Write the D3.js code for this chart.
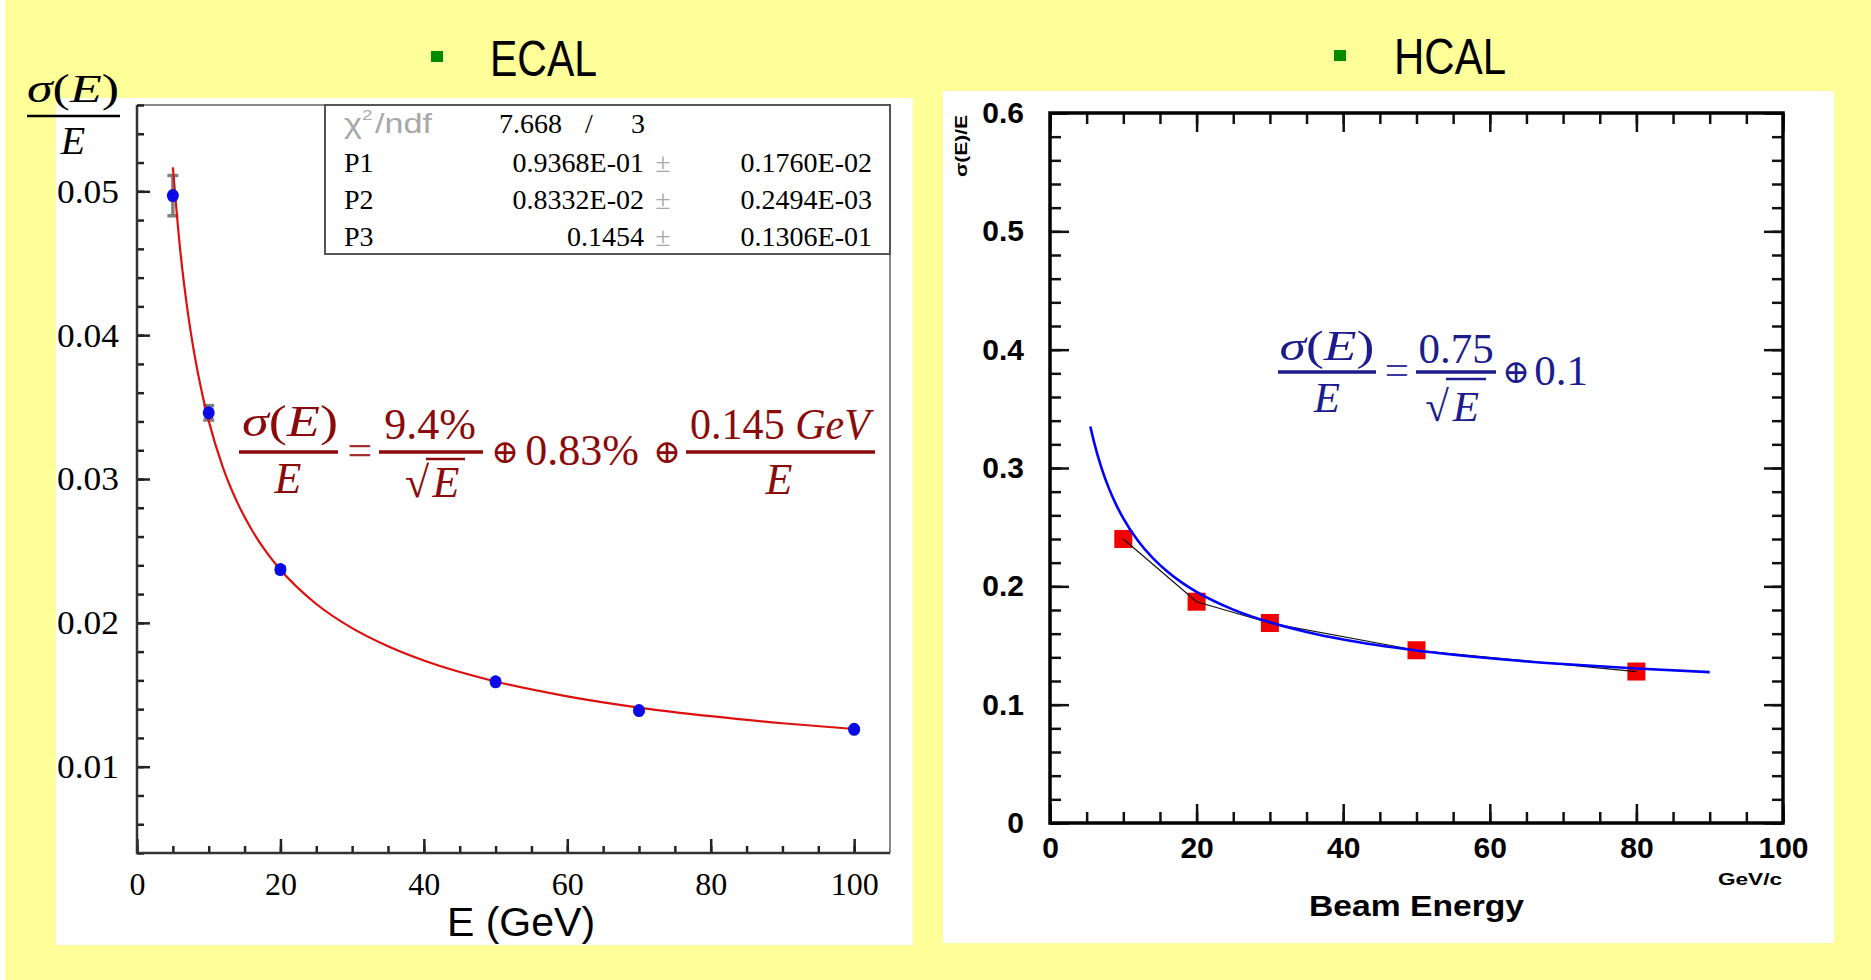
<!DOCTYPE html>
<html>
<head>
<meta charset="utf-8">
<script src="https://cdn.jsdelivr.net/npm/d3@7"></script>
<style>
  html, body { margin: 0; padding: 0; background: #ffff99; overflow: hidden; }
  svg { display: block; }
</style>
</head>
<body>
<svg id="chart" width="1871" height="980"></svg>
<script>
// ---------------- ECAL data ----------------
const ecalEnergy = [5, 10, 20, 50, 70, 100];                       // GeV
const ecalRes    = [0.0497, 0.0346, 0.0237, 0.0159, 0.0139, 0.0126]; // sigma(E)/E
const ecalErr    = [0.0014, 0.0005, 0.0002, 0.0001, 0.0001, 0.0001];
// fitted resolution curve, sampled along the energy range
const ecalFitEnergy = [5, 6, 7, 8, 9, 10, 12, 14, 16, 18, 20, 25, 30, 35, 40, 50, 60, 70, 80, 90, 100];
const ecalFitRes    = [0.05167, 0.04604, 0.04189, 0.03869, 0.03613, 0.03404, 0.03078, 0.02836, 0.02647,
                       0.02495, 0.02369, 0.02131, 0.01963, 0.01837, 0.01738, 0.01592, 0.01489, 0.01411,
                       0.01351, 0.01302, 0.01262];
const ecalXTicks = [0, 20, 40, 60, 80, 100];
const ecalYTicks = [0.01, 0.02, 0.03, 0.04, 0.05];
// fit statistics box rows
const fitNames  = ["P1", "P2", "P3"];
const fitValues = ["0.9368E-01", "0.8332E-02", "0.1454"];
const fitErrors = ["0.1760E-02", "0.2494E-03", "0.1306E-01"];
const chi2 = "7.668", ndf = "3";

// ---------------- HCAL data ----------------
const hcalEnergy = [10, 20, 30, 50, 80];                 // GeV/c
const hcalRes    = [0.240, 0.187, 0.169, 0.146, 0.128];  // sigma(E)/E
const hcalCurveEnergy = [5.5, 6, 7, 8, 9, 10, 12, 14, 16, 18, 20, 25, 30, 35, 40, 50, 60, 70, 80, 90];
const hcalCurveRes    = [0.3351, 0.3221, 0.3006, 0.2834, 0.2693, 0.2574, 0.2385, 0.2240, 0.2125, 0.2031,
                         0.1953, 0.1803, 0.1696, 0.1615, 0.1551, 0.1458, 0.1392, 0.1343, 0.1305, 0.1275];
const hcalXTicks = [0, 20, 40, 60, 80, 100];
const hcalYTicks = [0, 0.1, 0.2, 0.3, 0.4, 0.5, 0.6];

// ---------------- helpers ----------------
const SERIF = "'Liberation Serif','Times New Roman',serif";
const SANS  = "'Liberation Sans',Arial,Helvetica,sans-serif";
const MATH  = "'DejaVu Serif','DejaVu Sans',serif";

const svg = d3.select("#chart");

// text made of [string, italic] runs
function put(g, x, y, parts, o = {}) {
  const t = g.append("text")
    .attr("x", x).attr("y", y)
    .attr("font-family", o.family || SERIF)
    .attr("font-size", o.size || 32)
    .attr("font-weight", o.weight || "normal")
    .attr("fill", o.fill || "#000")
    .attr("text-anchor", o.anchor || "middle");
  if (o.len) t.attr("textLength", o.len).attr("lengthAdjust", "spacingAndGlyphs");
  if (o.rotate) t.attr("transform", `rotate(${o.rotate},${x},${y})`);
  const runs = typeof parts === "string" ? [[parts, false]] : parts;
  runs.forEach(([s, it]) => {
    const ts = t.append("tspan").text(s);
    if (it) ts.attr("font-style", "italic");
  });
  return t;
}
function bar(g, x1, x2, y, color, w) {
  g.append("line").attr("x1", x1).attr("x2", x2).attr("y1", y).attr("y2", y)
    .attr("stroke", color).attr("stroke-width", w || 3);
}
function styleAxis(sel, color, width) {
  sel.select(".domain").remove();
  sel.selectAll(".tick line").attr("stroke", color).attr("stroke-width", width);
}

// ---------------- page background ----------------
svg.append("rect").attr("width", 1871).attr("height", 980).attr("fill", "#ffff99");
svg.append("rect").attr("width", 5).attr("height", 980).attr("fill", "#ffffff");

// section headings with green bullets
svg.append("rect").attr("x", 431).attr("y", 51).attr("width", 12).attr("height", 11).attr("fill", "#008a00");
put(svg, 490, 76, "ECAL", { family: SANS, size: 50, anchor: "start", len: 107 });
svg.append("rect").attr("x", 1334).attr("y", 50).attr("width", 12).attr("height", 11).attr("fill", "#008a00");
put(svg, 1394, 74, "HCAL", { family: SANS, size: 50, anchor: "start", len: 112 });

// =====================================================================
// ECAL panel
// =====================================================================
const ecal = svg.append("g");
ecal.append("rect").attr("x", 56).attr("y", 98).attr("width", 857).attr("height", 847).attr("fill", "#fff");

const ex = d3.scaleLinear().domain([0, 105]).range([137, 890]);
const ey = d3.scaleLinear().domain([0.004, 0.056]).range([853, 105]);

// frame: gray top/right, dark left/bottom
ecal.append("line").attr("x1", ex(0)).attr("x2", ex(105)).attr("y1", ey(0.056)).attr("y2", ey(0.056))
  .attr("stroke", "#8a8a8a").attr("stroke-width", 2);
ecal.append("line").attr("x1", ex(105)).attr("x2", ex(105)).attr("y1", ey(0.056)).attr("y2", ey(0.004))
  .attr("stroke", "#8a8a8a").attr("stroke-width", 2);

// y axis: minor + major ticks pointing inward
const eyMinor = ecal.append("g").attr("transform", `translate(${ex(0)},0)`)
  .call(d3.axisLeft(ey).tickValues(d3.range(4, 57, 2).map(v => v / 1000))
    .tickSizeInner(-7).tickSizeOuter(0).tickFormat(""));
styleAxis(eyMinor, "#222", 2.5);
const eyMajor = ecal.append("g").attr("transform", `translate(${ex(0)},0)`)
  .call(d3.axisLeft(ey).tickValues(ecalYTicks).tickSizeInner(-13).tickSizeOuter(0)
    .tickPadding(18).tickFormat(d3.format(".2f")));
styleAxis(eyMajor, "#222", 2.5);
eyMajor.selectAll("text").attr("font-family", SERIF).attr("font-size", 34).attr("fill", "#000")
  .attr("textLength", 62).attr("lengthAdjust", "spacingAndGlyphs");

// x axis
const exMinor = ecal.append("g").attr("transform", `translate(0,${ey(0.004)})`)
  .call(d3.axisBottom(ex).tickValues(d3.range(0, 101, 5)).tickSizeInner(-7).tickSizeOuter(0).tickFormat(""));
styleAxis(exMinor, "#222", 2.5);
const exMajor = ecal.append("g").attr("transform", `translate(0,${ey(0.004)})`)
  .call(d3.axisBottom(ex).tickValues(ecalXTicks).tickSizeInner(-14).tickSizeOuter(0).tickPadding(19));
styleAxis(exMajor, "#222", 2.5);
exMajor.selectAll("text").attr("font-family", SERIF).attr("font-size", 32).attr("fill", "#000");

// axis lines
ecal.append("line").attr("x1", ex(0)).attr("x2", ex(0)).attr("y1", ey(0.056)).attr("y2", ey(0.004) + 1)
  .attr("stroke", "#333").attr("stroke-width", 2.5);
ecal.append("line").attr("x1", ex(0) - 1).attr("x2", ex(105)).attr("y1", ey(0.004)).attr("y2", ey(0.004))
  .attr("stroke", "#333").attr("stroke-width", 2.5);

// axis titles
put(ecal, 521, 936, "E (GeV)", { family: SANS, size: 41 });
put(ecal, 73, 102, [["σ", true], ["(", false], ["E", true], [")", false]], { size: 40, len: 92 });
bar(ecal, 27, 120, 116, "#000", 2.5);
put(ecal, 73, 154, [["E", true]], { size: 40 });

// fit statistics box
const box = ecal.append("g");
box.append("rect").attr("x", 325).attr("y", 105).attr("width", 565).attr("height", 149)
  .attr("fill", "#fff").attr("stroke", "#555").attr("stroke-width", 2);
const chiT = box.append("text").attr("x", 344).attr("y", 133).attr("font-family", SANS)
  .attr("font-size", 27).attr("fill", "#a8a8a8").attr("font-weight", 300)
  .attr("textLength", 88).attr("lengthAdjust", "spacingAndGlyphs");
chiT.append("tspan").text("χ");
chiT.append("tspan").text("2").attr("font-size", 15).attr("dy", -13);
chiT.append("tspan").text("/ndf").attr("dy", 13).attr("dx", 2);
put(box, 499, 133, chi2, { size: 28, anchor: "start" });
put(box, 589, 133, "/", { size: 28 });
put(box, 638, 133, ndf, { size: 28 });
const rowY = d3.scalePoint().domain(fitNames).range([172, 246]);
fitNames.forEach((n, i) => {
  const y = rowY(n);
  put(box, 344, y, n, { size: 28, anchor: "start" });
  put(box, 644, y, fitValues[i], { size: 28, anchor: "end" });
  put(box, 663, y, "±", { size: 28, fill: "#a8a8a8" });
  put(box, 872, y, fitErrors[i], { size: 28, anchor: "end" });
});

// error bars
const errG = ecal.append("g").attr("stroke", "#808080").attr("stroke-width", 3.5);
ecalEnergy.forEach((e, i) => {
  const x = ex(e), y1 = ey(ecalRes[i] + ecalErr[i]), y2 = ey(ecalRes[i] - ecalErr[i]);
  errG.append("line").attr("x1", x).attr("x2", x).attr("y1", y1).attr("y2", y2);
  errG.append("line").attr("x1", x - 5.5).attr("x2", x + 5.5).attr("y1", y1).attr("y2", y1);
  errG.append("line").attr("x1", x - 5.5).attr("x2", x + 5.5).attr("y1", y2).attr("y2", y2);
});

// fit curve
const ecalLine = d3.line().x(d => ex(d[0])).y(d => ey(d[1])).curve(d3.curveMonotoneX);
ecal.append("path").datum(d3.zip(ecalFitEnergy, ecalFitRes)).attr("d", ecalLine)
  .attr("fill", "none").attr("stroke", "#dd1010").attr("stroke-width", 2.2);

// measured points
ecal.append("g").selectAll("ellipse").data(d3.zip(ecalEnergy, ecalRes)).join("ellipse")
  .attr("cx", d => ex(d[0])).attr("cy", d => ey(d[1])).attr("rx", 6).attr("ry", 6.5).attr("fill", "#0a0ae6");

// resolution formula
const red = "#8b0a0a";
const fe = ecal.append("g");
put(fe, 290, 436, [["σ", true], ["(", false], ["E", true], [")", false]], { size: 44, fill: red, len: 96 });
bar(fe, 239, 338, 452, red, 3.5);
put(fe, 288, 493, [["E", true]], { size: 44, fill: red });
put(fe, 360, 465, "=", { size: 44, fill: "#a83030" });
put(fe, 430, 439, "9.4%", { size: 44, fill: red });
bar(fe, 379, 483, 452, red, 3.5);
put(fe, 417, 497, "√", { size: 44, fill: red });
bar(fe, 426, 465, 459, red, 2.5);
put(fe, 446, 497, [["E", true]], { size: 44, fill: red });
put(fe, 505, 463, "⊕", { family: MATH, size: 33, fill: red });
put(fe, 582, 465, "0.83%", { size: 44, fill: red });
put(fe, 667, 463, "⊕", { family: MATH, size: 33, fill: red });
put(fe, 780, 439, [["0.145 ", false], ["GeV", true]], { size: 44, fill: red, len: 180 });
bar(fe, 686, 875, 452, red, 3.5);
put(fe, 779, 494, [["E", true]], { size: 44, fill: red });

// =====================================================================
// HCAL panel
// =====================================================================
const hcal = svg.append("g");
hcal.append("rect").attr("x", 943).attr("y", 91).attr("width", 891).attr("height", 852).attr("fill", "#fff");

const hx = d3.scaleLinear().domain([0, 100]).range([1050, 1783]);
const hy = d3.scaleLinear().domain([0, 0.6]).range([823, 113]);

function hAxes(axisFn, scale, pos, withLabels, isX) {
  const minor = hcal.append("g").attr("transform", isX ? `translate(0,${pos})` : `translate(${pos},0)`)
    .call(axisFn(scale).tickValues(isX ? d3.range(0, 101, 5) : d3.range(0, 31, 1).map(v => v / 50))
      .tickSizeInner(-11).tickSizeOuter(0).tickFormat(""));
  styleAxis(minor, "#111", 2.5);
  const major = hcal.append("g").attr("transform", isX ? `translate(0,${pos})` : `translate(${pos},0)`)
    .call(axisFn(scale).tickValues(isX ? hcalXTicks : hcalYTicks)
      .tickSizeInner(-19).tickSizeOuter(0).tickPadding(isX ? 14 : 26)
      .tickFormat(withLabels ? (d => String(d)) : ""));
  styleAxis(major, "#111", 2.5);
  major.selectAll("text").attr("font-family", SANS).attr("font-weight", "bold")
    .attr("font-size", 30).attr("fill", "#000");
}
hAxes(d3.axisLeft,   hy, hx(0),   true,  false);
hAxes(d3.axisRight,  hy, hx(100), false, false);
hAxes(d3.axisBottom, hx, hy(0),   true,  true);
hAxes(d3.axisTop,    hx, hy(0.6), false, true);

hcal.append("rect").attr("x", hx(0)).attr("y", hy(0.6)).attr("width", hx(100) - hx(0))
  .attr("height", hy(0) - hy(0.6)).attr("fill", "none").attr("stroke", "#000").attr("stroke-width", 3.5);

// axis titles
put(hcal, 1309, 916, "Beam Energy", { family: SANS, size: 30, weight: "bold", anchor: "start", len: 215 });
put(hcal, 1718, 885, "GeV/c", { family: SANS, size: 16, weight: "bold", anchor: "start", len: 64 });
put(hcal, 967, 146, "σ(E)/E", { family: SANS, size: 16, weight: "bold", len: 62, rotate: -90 });

// measured points
hcal.append("g").selectAll("rect").data(d3.zip(hcalEnergy, hcalRes)).join("rect")
  .attr("x", d => hx(d[0]) - 9).attr("y", d => hy(d[1]) - 9)
  .attr("width", 18).attr("height", 18).attr("fill", "#f20000");

// line through the points
const hLine = d3.line().x(d => hx(d[0])).y(d => hy(d[1]));
hcal.append("path").datum(d3.zip(hcalEnergy, hcalRes)).attr("d", hLine)
  .attr("fill", "none").attr("stroke", "#111").attr("stroke-width", 1.2);

// parametrised resolution curve
const hCurve = d3.line().x(d => hx(d[0])).y(d => hy(d[1])).curve(d3.curveMonotoneX);
hcal.append("path").datum(d3.zip(hcalCurveEnergy, hcalCurveRes)).attr("d", hCurve)
  .attr("fill", "none").attr("stroke", "#0000ff").attr("stroke-width", 2.6);

// resolution formula
const navy = "#1c1c8c";
const fh = hcal.append("g");
put(fh, 1327, 360, [["σ", true], ["(", false], ["E", true], [")", false]], { size: 43, fill: navy, len: 95 });
bar(fh, 1278, 1376, 372, navy, 3.5);
put(fh, 1327, 412, [["E", true]], { size: 43, fill: navy });
put(fh, 1397, 384, "=", { size: 43, fill: "#3a3aa0" });
put(fh, 1456, 363, "0.75", { size: 43, fill: navy });
bar(fh, 1416, 1496, 372, navy, 3.5);
put(fh, 1437, 421, "√", { size: 43, fill: navy });
bar(fh, 1446, 1486, 379, navy, 2.5);
put(fh, 1466, 421, [["E", true]], { size: 43, fill: navy });
put(fh, 1516, 383, "⊕", { family: MATH, size: 33, fill: navy });
put(fh, 1561, 385, "0.1", { size: 43, fill: navy });
</script>
</body>
</html>
